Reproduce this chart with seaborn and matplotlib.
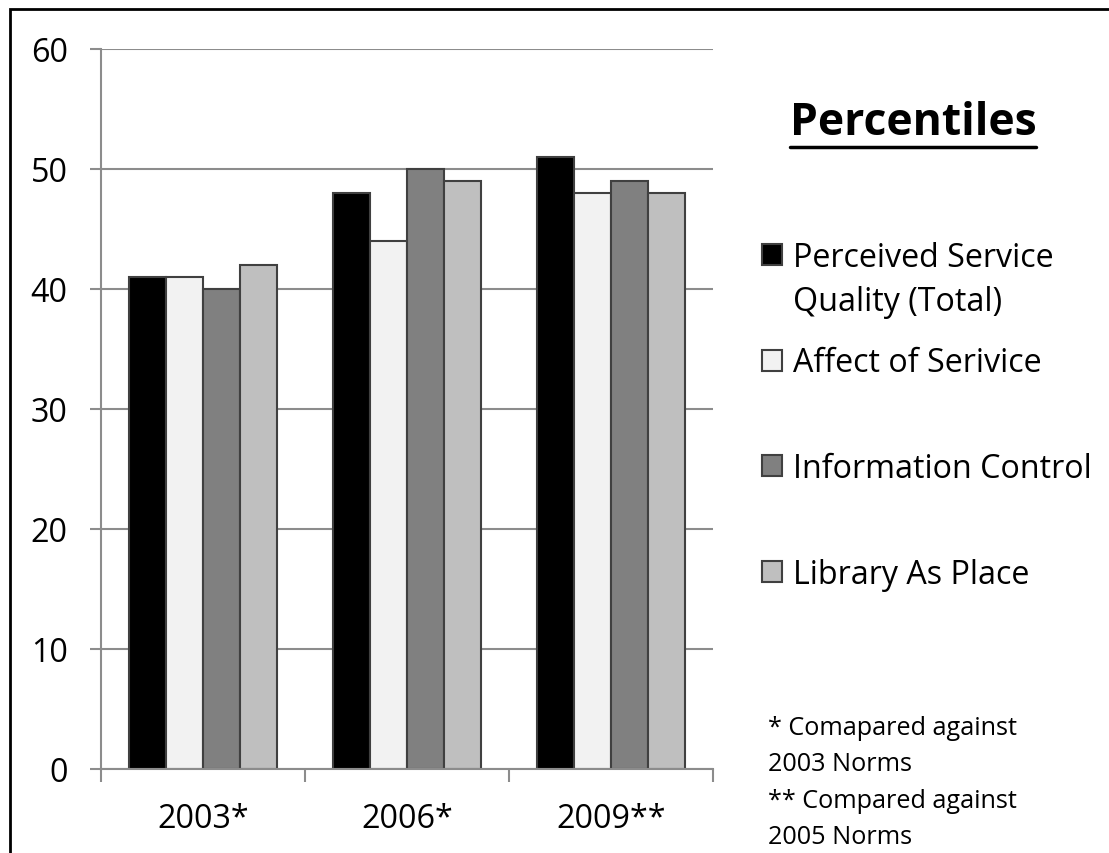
import matplotlib
matplotlib.use("Agg")
import matplotlib.pyplot as plt
import seaborn as sns
import pandas as pd
from matplotlib.patches import Rectangle
from matplotlib.lines import Line2D

years = ["2003*", "2006*", "2009**"]
series = ["Perceived Service", "Affect of Serivice", "Information Control", "Library As Place"]
perceived = [41, 48, 51]
affect = [41, 44, 48]
information = [40, 50, 49]
library = [42, 49, 48]
colors = ["#000000", "#F2F2F2", "#808080", "#BFBFBF"]
yticks = [0, 10, 20, 30, 40, 50, 60]

rows = []
for name, vals in zip(series, [perceived, affect, information, library]):
    for y, v in zip(years, vals):
        rows.append({"year": y, "series": name, "value": v})
df = pd.DataFrame(rows)

sns.set_theme(style="white")
FONT = ["Open Sans", "DejaVu Sans"]
plt.rcParams["font.family"] = FONT

W, H = 1109, 854
FS = 23.2
fig = plt.figure(figsize=(W / 100, H / 100), dpi=100)
ax = fig.add_axes([101 / W, 1 - 770 / H, (713 - 101) / W, (770 - 50) / H])

sns.barplot(data=df, x="year", y="value", hue="series", hue_order=series,
            palette=colors, width=0.725, gap=0, saturation=1,
            edgecolor="#404040", linewidth=1.5, ax=ax, legend=True)

ax.set_ylim(0, 60)
ax.set_xlim(-0.5, 2.5)
ax.set_yticks(yticks)
ax.yaxis.grid(True, color="#8C8C8C", linewidth=1.5)
ax.set_axisbelow(True)
ax.set_xlabel("")
ax.set_ylabel("")
for s in ["top", "right"]:
    ax.spines[s].set_visible(False)
for s in ["left", "bottom"]:
    ax.spines[s].set_color("#8C8C8C")
    ax.spines[s].set_linewidth(1.5)

ax.set_xticks([-0.5, 0.5, 1.5, 2.5])
ax.set_xticklabels([])
ax.set_xticks([0, 1, 2], minor=True)
ax.set_xticklabels(years, minor=True)
ax.tick_params(axis="x", which="major", direction="out", length=9, width=1.5, color="#8C8C8C", bottom=True)
ax.tick_params(axis="x", which="minor", length=0, pad=24, labelsize=FS)
ax.tick_params(axis="y", direction="out", length=8, width=1.5, color="#8C8C8C", left=True, pad=16, labelsize=FS)
for lab in ax.get_yticklabels() + ax.get_xticklabels(minor=True):
    lab.set_color("#000000")

handles, labels = ax.get_legend_handles_labels()
leg = ax.legend(handles, labels, loc="upper left", bbox_to_anchor=(762 / W, 1 - 242 / H),
                bbox_transform=fig.transFigure, frameon=False, fontsize=FS,
                handlelength=0.62, handleheight=0.62, handletextpad=0.34,
                labelspacing=2.25, borderaxespad=0, borderpad=0)
for t in leg.get_texts():
    t.set_color("#000000")

title = fig.text(913 / W, 1 - 135 / H, "Percentiles", fontsize=32, fontweight="bold",
                 ha="center", va="baseline", color="#000000")

foot = fig.text(768 / W, 1 - 716 / H, "* Comapared against\n2003 Norms\n** Compared against\n2005 Norms",
                fontsize=18.2, ha="left", va="top", color="#000000", linespacing=1.6)

fig.canvas.draw()
bb = leg.get_texts()[0].get_window_extent()
fig.text(bb.x0 / W, (bb.y0 - 44) / H, "Quality (Total)", fontsize=FS,
         color="#000000", ha="left", va="bottom")

tb = title.get_window_extent()
fig.add_artist(Line2D([tb.x0 / W, tb.x1 / W], [1 - 148 / H, 1 - 148 / H],
                      color="#000000", linewidth=2.5, transform=fig.transFigure))

fig.add_artist(Rectangle((10 / W, -0.1), 1.2, 1 - 10 / H + 0.1, transform=fig.transFigure,
                         fill=False, edgecolor="#000000", linewidth=2))

fig.savefig("out.png", dpi=100)
